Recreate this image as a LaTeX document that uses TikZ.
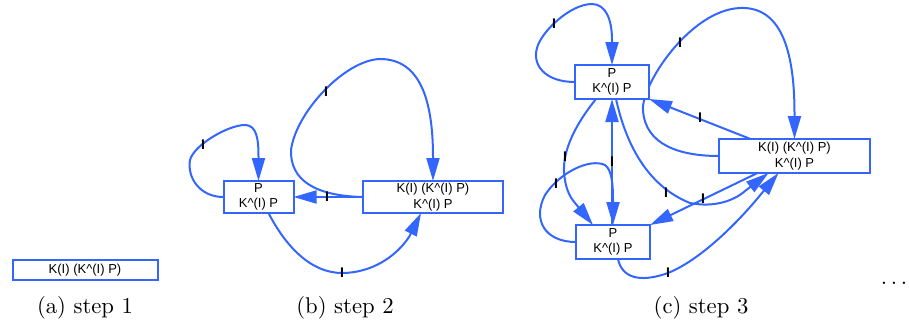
\documentclass[tikz,border=0pt]{standalone}
\usepackage{fontspec}
\usepackage{graphicx}
\newfontfamily\gvfont{Liberation Sans}
\usetikzlibrary{arrows.meta,backgrounds}
\definecolor{gvblue}{HTML}{3366FF}
\begin{document}
\begin{tikzpicture}[x=1pt,y=-1pt,
  gvbox/.style={draw=gvblue, line width=2pt, fill=white, inner sep=0pt, outer sep=0pt,
    font=\gvfont\fontsize{13}{15.5}\selectfont, align=center},
  gvedge/.style={draw=gvblue, line width=2pt, -{Triangle[length=23pt,width=13pt]}},
  elab/.style={font=\gvfont\bfseries\fontsize{14}{16}\selectfont, inner sep=0pt},
  captext/.style={font=\fontsize{10}{12}\selectfont, anchor=base, inner sep=0pt}]
\useasboundingbox (0,0) rectangle (909,327);

% step 1
\node[gvbox, minimum width=145pt, minimum height=20pt] (s1) at (85,270) {K(I) (K\textasciicircum(I) P)};

% step 2
\node[gvbox, minimum width=70pt, minimum height=32pt] (p2) at (258.5,197) {P\\K\textasciicircum(I) P};
\node[gvbox, minimum width=140pt, minimum height=32pt] (k2) at (433,197) {K(I) (K\textasciicircum(I) P)\\K\textasciicircum(I) P};

% step 3
\node[gvbox, minimum width=74pt, minimum height=34pt] (a3) at (612,82) {P\\K\textasciicircum(I) P};
\node[gvbox, minimum width=151pt, minimum height=34pt] (b3) at (794.5,156) {K(I) (K\textasciicircum(I) P)\\K\textasciicircum(I) P};
\node[gvbox, minimum width=74pt, minimum height=34pt] (c3) at (613,242) {P\\K\textasciicircum(I) P};

\begin{scope}[on background layer]
  % step 2 edges
  \draw[gvedge] (p2.west) .. controls (200,197) and (187,178) .. (190,160)
     .. controls (194,145) and (228,125) .. (245,125)
     .. controls (257,125) and (258.5,140) .. (258.5,157) -- (p2.north);
  \draw[gvedge] (k2.west) -- (p2.east);
  \draw[gvedge] (k2.west) .. controls (315,196) and (290,180) .. (291,150)
     .. controls (296,112) and (345,60) .. (380,59)
     .. controls (420,59) and (433,100) .. (433,157) -- (k2.north);
  \draw[gvedge] ([xshift=10pt]p2.south) .. controls (285,245) and (310,273) .. (342,273)
     .. controls (370,273) and (395,258) .. (409,237) -- ([xshift=-12pt]k2.south);
  % step 3 edges
  \draw[gvedge] (a3.west) .. controls (545,82) and (532,65) .. (537,48)
     .. controls (541,32) and (570,4) .. (592,4)
     .. controls (606,4) and (612,20) .. (612,40) -- (a3.north);
  \draw[gvedge] (b3.west) .. controls (680,156) and (645,145) .. (643,110)
     .. controls (641,85) and (690,10) .. (740,8)
     .. controls (785,6) and (794.5,60) .. (794.5,114) -- (b3.north);
  \draw[gvedge] ([xshift=-44pt]b3.north) -- (a3.south east);
  \draw[gvedge] ([xshift=-16pt]a3.south) .. controls (575,125) and (563,150) .. (564,172)
     .. controls (565,185) and (568,195) .. (575,203) -- ([xshift=-20pt]c3.north);
  \draw[gvedge] (c3.west) .. controls (545,242) and (532,220) .. (545,195)
     .. controls (560,172) and (590,158) .. (605,165)
     .. controls (612,170) and (613,185) .. (613,200) -- (c3.north);
  \draw[gvedge] ([xshift=-1pt]c3.north) -- (a3.south);
  \draw[gvedge] ([xshift=4pt]a3.south) .. controls (625,140) and (645,185) .. (690,203)
     .. controls (715,208) and (735,200) .. (745,191) -- ([xshift=-26pt]b3.south);
  \draw[gvedge] ([xshift=-37pt]b3.south) -- (c3.north east);
  \draw[gvedge] ([xshift=5pt]c3.south) .. controls (622,278) and (640,283) .. (668,273)
     .. controls (700,260) and (735,225) .. (757,199) -- ([xshift=-16pt]b3.south);
\end{scope}

% edge labels
\node[elab] (l1) at (203,145) {I};
\node[elab] (l2) at (327,197) {I};
\node[elab] (l3) at (326,92) {I};
\node[elab] (l4) at (342,273) {I};
\node[elab] (l5) at (554,24) {I};
\node[elab] (l6) at (680,43) {I};
\node[elab] (l7) at (700,118) {I};
\node[elab] (l8) at (565,157) {I};
\node[elab] (l9) at (556,184) {I};
\node[elab] (l10) at (612,162) {I};
\node[elab] (l11) at (666,193) {I};
\node[elab] (l12) at (703,199) {I};
\node[elab] (l13) at (668,273) {I};

% captions
\node[captext] (capa) at (85,313) {\scalebox{2.27}{(a) step 1}};
\node[captext] (capb) at (345,313) {\scalebox{2.27}{(b) step 2}};
\node[captext] (capc) at (701,313) {\scalebox{2.27}{(c) step 3}};
\node[captext] (dots) at (894,284) {\scalebox{2.27}{$\ldots$}};
\end{tikzpicture}
\end{document}
